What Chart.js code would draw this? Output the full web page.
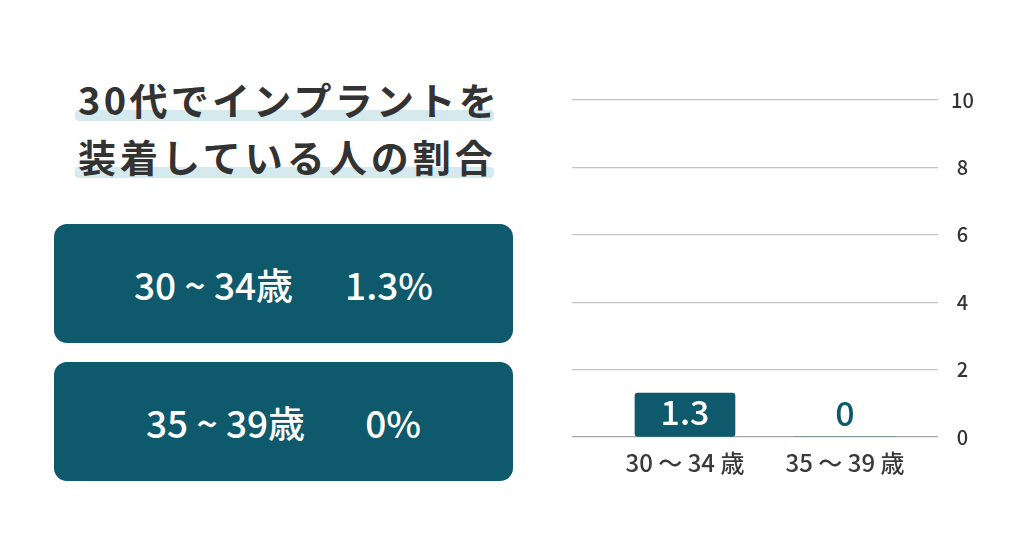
<!DOCTYPE html>
<html>
<head>
<meta charset="utf-8">
<script src="https://cdn.jsdelivr.net/npm/chart.js@4"></script>
<style>
  html, body { margin:0; padding:0; background:#fff; }
  body { width:1024px; height:538px; position:relative; overflow:hidden; font-family:"Noto Sans CJK JP", "Noto Sans", sans-serif; }
  .band { position:absolute; left:75px; width:419px; height:11px; background:#d4eaef; border-radius:4px; }
  .title { position:absolute; left:78px; font-size:38px; font-weight:700; color:#333; letter-spacing:4px; line-height:1; white-space:nowrap; }
  .box { position:absolute; left:54px; width:459px; height:119px; background:#0f596c; border-radius:13px; color:#fff; font-size:37px; font-weight:500; display:flex; align-items:center; justify-content:center; white-space:nowrap; }
  #wrap { position:absolute; left:572px; top:75px; width:428px; height:432px; }
</style>
</head>
<body>
<div class="band" style="top:110px"></div>
<div class="band" style="top:167px"></div>
<div class="title" style="top:80px;letter-spacing:3.3px">30代でインプラントを</div>
<div class="title" style="top:137px">装着している人の割合</div>
<div class="box" style="top:224px"><span>30 ~ 34歳</span><span style="margin-left:52px">1.3%</span></div>
<div class="box" style="top:362px"><span>35 ~ 39歳</span><span style="margin-left:60px">0%</span></div>
<div id="wrap"><canvas id="c"></canvas></div>
<script>
const categories = ['30 〜 34 歳', '35 〜 39 歳'];
const values = [1.3, 0];
const yTicks = [0, 2, 4, 6, 8, 10];

const TEAL = '#0f596c';

const valueLabels = {
  id: 'valueLabels',
  afterDatasetsDraw(chart) {
    const ctx = chart.ctx;
    const meta = chart.getDatasetMeta(0);
    ctx.save();
    ctx.font = '500 34px "Noto Sans CJK JP", "Noto Sans", sans-serif';
    ctx.textAlign = 'center';
    ctx.textBaseline = 'middle';
    meta.data.forEach((bar, i) => {
      const v = values[i];
      const h = Math.abs(bar.base - bar.y);
      ctx.fillStyle = h > 30 ? '#ffffff' : TEAL;
      ctx.fillText(String(v), bar.x, bar.base - 24);
    });
    ctx.restore();
  }
};

new Chart(document.getElementById('c'), {
  type: 'bar',
  data: {
    datasets: [{
      data: values.map((v, i) => ({ x: i, y: v })),
      backgroundColor: TEAL,
      borderRadius: 3,
      borderSkipped: false,
      barThickness: 100
    }]
  },
  options: {
    responsive: true,
    maintainAspectRatio: false,
    animation: false,
    layout: { padding: { top: 0, left: 0, right: 0, bottom: 30 } },
    plugins: { legend: { display: false }, tooltip: { enabled: false } },
    scales: {
      x: {
        type: 'linear',
        offset: false,
        min: -0.706,
        max: 1.581,
        afterBuildTicks(scale) { scale.ticks = categories.map((c, i) => ({ value: i })); },
        afterFit(scale) { scale.height = 40; },
        grid: { display: false, offset: false },
        border: { display: false },
        ticks: {
          callback: (v) => categories[v] ?? '',
          color: '#3a3a3a',
          padding: 3,
          font: { family: '"Noto Sans CJK JP", "Noto Sans", sans-serif', size: 24, weight: 500 },
          maxRotation: 0,
          autoSkip: false
        }
      },
      y: {
        position: 'right',
        min: 0,
        max: 10,
        afterBuildTicks(scale) { scale.ticks = yTicks.map(v => ({ value: v })); },
        afterFit(scale) { scale.width = 62; },
        border: { display: false },
        grid: {
          color: (c) => c.tick && c.tick.value === 0 ? '#a8a8a8' : '#c4c4c4',
          lineWidth: 1.2,
          tickLength: 0,
          drawTicks: false
        },
        ticks: {
          color: '#333',
          padding: 13,
          crossAlign: 'center',
          font: { family: '"Noto Sans CJK JP", "Noto Sans", sans-serif', size: 20, weight: 500 }
        }
      }
    }
  },
  plugins: [valueLabels]
});
</script>
</body>
</html>
